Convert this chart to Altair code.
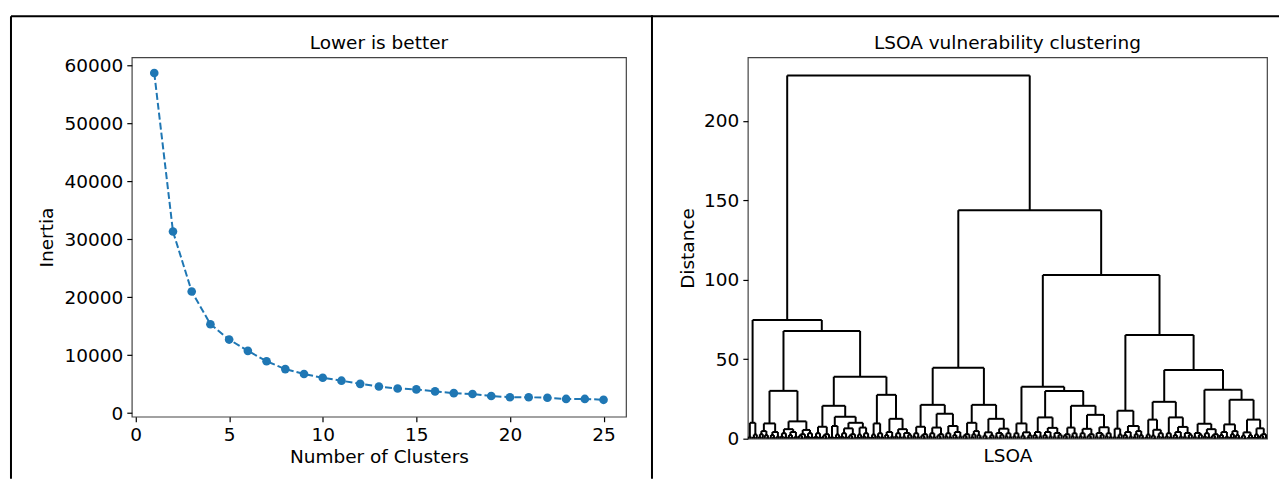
import altair as alt
import pandas as pd

FONT = "DejaVu Sans"
BLUE = "#1f77b4"
FS = 18.5

# ---------------- elbow curve ----------------
clusters = [1, 2, 3, 4, 5, 6, 7, 8, 9, 10, 11, 12, 13,
            14, 15, 16, 17, 18, 19, 20, 21, 22, 23, 24, 25]
inertia = [58700, 31350, 21000, 15350, 12700, 10750, 8950, 7600, 6750, 6100,
           5600, 5050, 4600, 4250, 4100, 3750, 3450, 3300, 2950, 2750,
           2750, 2650, 2450, 2450, 2300]
elbow_x_ticks = [0, 5, 10, 15, 20, 25]
elbow_y_ticks = [0, 10000, 20000, 30000, 40000, 50000, 60000]

# ---------------- hierarchical clustering tree ----------------
# Each merge is (distance, left, right); a bare 0 is a single LSOA.
t2 = (1.3, 0, 0)
t3 = (2.6, (1.1, 0, 0), 0)
t3b = (1.9, 0, (0.7, 0, 0))
t4 = (3.4, (1.6, 0, 0), (1.2, 0, 0))
t4b = (2.8, (1.9, 0, (0.8, 0, 0)), 0)
t5 = (4.2, (2.3, 0, (1.0, 0, 0)), (1.5, 0, 0))
t5b = (3.6, (1.4, 0, 0), (2.5, (0.9, 0, 0), 0))
t6 = (4.8, (2.8, (1.2, 0, 0), 0), (2.2, 0, (0.9, 0, 0)))
t6b = (4.0, (1.9, 0, (0.7, 0, 0)), (2.2, (1.0, 0, 0), 0))

c1 = (10.0, t2, t3)
c2 = (9.6, t6, t5)
c3 = (10.9, (6.0, t4, t5), (5.5, t4b, t4))
c4 = (7.5, t4, t4b)
c5 = (13.8, (8.0, t2, t3), (10.0, (6.5, t4, t4b), (7.0, t3, t4)))
c6 = (9.6, t3, t4)
c7 = (12.5, t5, (6.0, t4, t5b))
c8 = (7.5, t4, t4b)
c9 = (15.7, (7.0, t4, t4b), (8.0, t4, t5))
c10 = (10.0, t4b, t6)
c11 = (12.5, t6b, (6.3, t5b, t4))
c12 = (9.6, t4, t6b)
c13 = (13.4, t5, (6.8, t5, t5b))
c14 = (7.0, t4b, t4)
c15 = (15.0, (6.2, t4, t4b), (7.2, t5b, t4))
c16 = (6.3, t2, t3)
c17 = (8.0, t5, t6)
c18 = (12.0, t3, (5.6, t3b, t4))
c19 = (13.4, t4, (7.4, t5, t5b))
c20 = (9.4, t5b, (6.0, t4, t4b))
c21 = (9.0, t5, t6)
c22 = (12.0, t6b, (6.5, t3, t4b))

group_a = (74.7, c1, (67.8, (30.1, c2, c3),
                      (39.0, (20.7, c4, c5), (27.6, c6, c7))))
group_b1 = (44.6, (21.3, c8, c9), (21.3, c10, c11))
group_b2a = (32.7, c12, (30.0, c13, (20.7, c14, c15)))
group_b2b = (65.3, (17.6, c16, c17),
             (43.3, (23.2, c18, c19), (30.8, c20, (24.5, c21, c22))))
tree = (228.6, group_a, (143.8, group_b1, (103.0, group_b2a, group_b2b)))
distance_ticks = [0, 50, 100, 150, 200]


def layout(node, segs, counter):
    """Place leaves 10 units apart and return (x, height) of the node."""
    if not isinstance(node, tuple):
        x = 10 * counter[0] + 5
        counter[0] += 1
        return x, 0.0
    h, left, right = node
    xl, yl = layout(left, segs, counter)
    xr, yr = layout(right, segs, counter)
    segs.append((xl, yl, xl, h))
    segs.append((xl, h, xr, h))
    segs.append((xr, h, xr, yr))
    return (xl + xr) / 2, h


seg_rows = []
leaf_count = [0]
layout(tree, seg_rows, leaf_count)
n_leaves = leaf_count[0]
seg_df = pd.DataFrame(seg_rows, columns=["x", "y", "x2", "y2"])
y_top = tree[0] * 1.05

elbow_df = pd.DataFrame({"k": clusters, "inertia": inertia})
dummy = pd.DataFrame({"d": [0]})


def px_rule(x1, x2, y1, y2):
    return alt.Chart(dummy).mark_rule(color="black", strokeWidth=2, clip=False).encode(
        x=alt.value(x1), x2=alt.value(x2), y=alt.value(y1), y2=alt.value(y2))


def panel_title(text, width):
    return alt.Chart(dummy).mark_text(
        font=FONT, fontSize=FS, color="black", align="center",
        baseline="alphabetic", clip=False,
    ).encode(x=alt.value(width / 2), y=alt.value(-8), text=alt.value(text))


W1, H1 = 495, 360
W2, H2 = 520, 382

ex = alt.X("k:Q", scale=alt.Scale(domain=[-0.2, 26.2], nice=False, zero=False),
           axis=alt.Axis(values=elbow_x_ticks, title="Number of Clusters", titlePadding=3))
ey = alt.Y("inertia:Q", scale=alt.Scale(domain=[-620, 61420], nice=False, zero=False),
           axis=alt.Axis(values=elbow_y_ticks, format="d", title="Inertia", titlePadding=8))

elbow_line = alt.Chart(elbow_df).mark_line(
    color=BLUE, strokeWidth=2, strokeDash=[7, 3]).encode(x=ex, y=ey)
elbow_pts = alt.Chart(elbow_df).mark_circle(
    color=BLUE, size=75, opacity=1).encode(x=ex, y=ey)

left = alt.layer(
    elbow_line, elbow_pts,
    panel_title("Lower is better", W1),
    px_rule(-121, 522, -41, -41),
    px_rule(-121, -121, -41, 422),
    px_rule(521, 521, -41, 422),
).properties(width=W1, height=H1)

dendro = alt.Chart(seg_df).mark_rule(color="black", strokeWidth=2).encode(
    x=alt.X("x:Q", scale=alt.Scale(domain=[0, 10 * n_leaves], nice=False, zero=False),
            axis=alt.Axis(title="LSOA", labels=False, ticks=False, titlePadding=8)),
    x2="x2:Q",
    y=alt.Y("y:Q", scale=alt.Scale(domain=[0, y_top], nice=False, zero=False),
            axis=alt.Axis(values=distance_ticks, title="Distance", titlePadding=6)),
    y2="y2:Q",
)

right = alt.layer(
    dendro,
    panel_title("LSOA vulnerability clustering", W2),
    px_rule(-97, 532, -41, -41),
).properties(width=W2, height=H2)

chart = alt.hconcat(left, right, spacing=122, bounds="flush").properties(
    padding={"left": 9, "top": 14, "right": 0, "bottom": 0}
).configure_view(
    stroke="#444", strokeWidth=1.2
).configure_axis(
    labelFont=FONT, titleFont=FONT, labelFontSize=FS, titleFontSize=FS,
    labelColor="black", titleColor="black", titleFontWeight="normal",
    tickColor="black", tickSize=5, tickWidth=1.2, labelPadding=4,
    domain=False, grid=False,
)

chart.save("out.html", embed_options={"renderer": "svg", "actions": False})
